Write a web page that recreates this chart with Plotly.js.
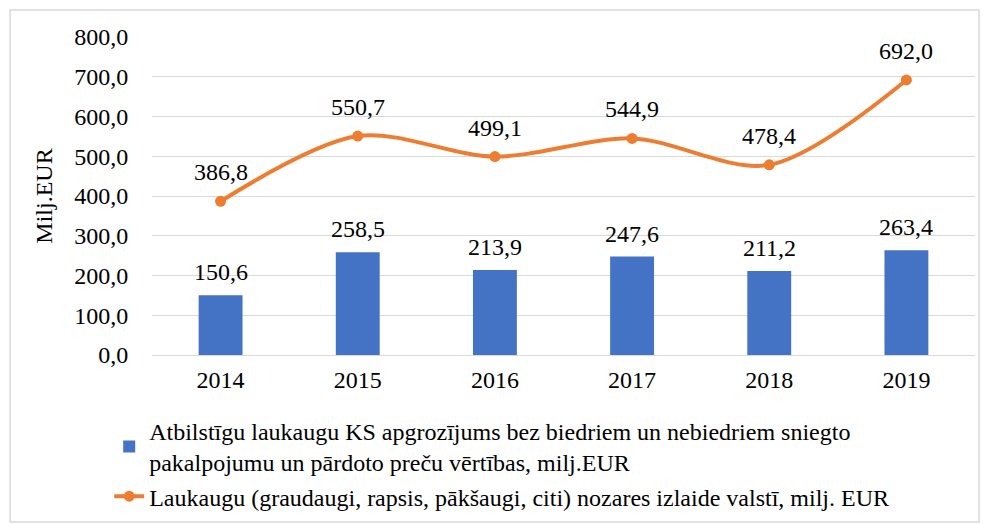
<!DOCTYPE html>
<html>
<head>
<meta charset="utf-8">
<script src="https://cdn.plot.ly/plotly-3.0.1.min.js"></script>
<style>
html,body{margin:0;padding:0;background:#fff;}
#chart{width:989px;height:524px;}
#chart svg text{font-family:'Liberation Serif','DejaVu Serif',serif !important;}
</style>
</head>
<body>
<div id="chart"></div>
<script>
const years = ['2014','2015','2016','2017','2018','2019'];
const turnover = [150.6, 258.5, 213.9, 247.6, 211.2, 263.4];
const output = [386.8, 550.7, 499.1, 544.9, 478.4, 692.0];
const barName = 'Atbilstīgu laukaugu KS apgrozījums bez biedriem un nebiedriem sniegto<br>pakalpojumu un pārdoto preču vērtības, milj.EUR';
const lineName = 'Laukaugu (graudaugi, rapsis, pākšaugi, citi) nozares izlaide valstī, milj. EUR';

const fmt = v => v.toFixed(1).replace('.', ',');
const fam = 'Liberation Serif, DejaVu Serif, serif';
const font = {family: fam, size: 24, color: '#000'};
const legFont = {family: fam, size: 24, color: '#000'};

function draw() {
  const traces = [
    {type: 'bar', x: years, y: turnover, name: barName, marker: {color: '#4472C4'}, width: 0.32, hoverinfo: 'y'},
    {type: 'scatter', mode: 'lines+markers', x: years, y: output, name: lineName,
     line: {color: '#ED7D31', width: 4, shape: 'spline', smoothing: 0.9},
     marker: {color: '#ED7D31', size: 11}}
  ];

  const annotations = [];
  years.forEach((yr, i) => {
    annotations.push({x: i, y: turnover[i], text: fmt(turnover[i]), showarrow: false, yshift: 23, font: font});
    annotations.push({x: i, y: output[i], text: fmt(output[i]), showarrow: false, yshift: 29, font: font});
  });

  const layout = {
    width: 989, height: 524,
    margin: {l: 152, r: 14, t: 37, b: 169},
    paper_bgcolor: '#fff', plot_bgcolor: '#fff',
    font: font,
    separators: ',.',
    showlegend: true,
    xaxis: {type: 'category', range: [-0.5, 5.5], autorange: false, showgrid: false, zeroline: false, showline: false,
            ticks: 'outside', ticklen: 3, tickcolor: 'rgba(0,0,0,0)', tickfont: font},
    yaxis: {range: [0, 800], autorange: false, dtick: 100, tickformat: '.1f', showgrid: true, gridcolor: '#d9d9d9', gridwidth: 1,
            zeroline: true, zerolinecolor: '#d9d9d9', zerolinewidth: 1, showline: false,
            ticks: 'outside', ticklen: 18, tickcolor: 'rgba(0,0,0,0)', tickfont: font,
            title: {text: 'Milj.EUR', font: font, standoff: 14}},
    legend: {orientation: 'v', x: -0.052, xanchor: 'left', yref: 'container', y: 0.22, yanchor: 'top', font: legFont,
             traceorder: 'normal', itemwidth: 30, tracegroupgap: 2, bgcolor: 'rgba(0,0,0,0)'},
    annotations: annotations,
    shapes: [{type: 'rect', xref: 'paper', yref: 'paper', x0: -0.1725, x1: 1.0049, y0: -0.525, y1: 1.085,
              line: {color: '#d9d9d9', width: 1.5}, fillcolor: 'rgba(0,0,0,0)', layer: 'below'}]
  };

  Plotly.newPlot('chart', traces, layout, {displayModeBar: false, staticPlot: true});
}

if (document.fonts && document.fonts.load) {
  document.fonts.load('24px "Liberation Serif"').then(draw, draw);
} else {
  draw();
}
</script>
</body>
</html>
